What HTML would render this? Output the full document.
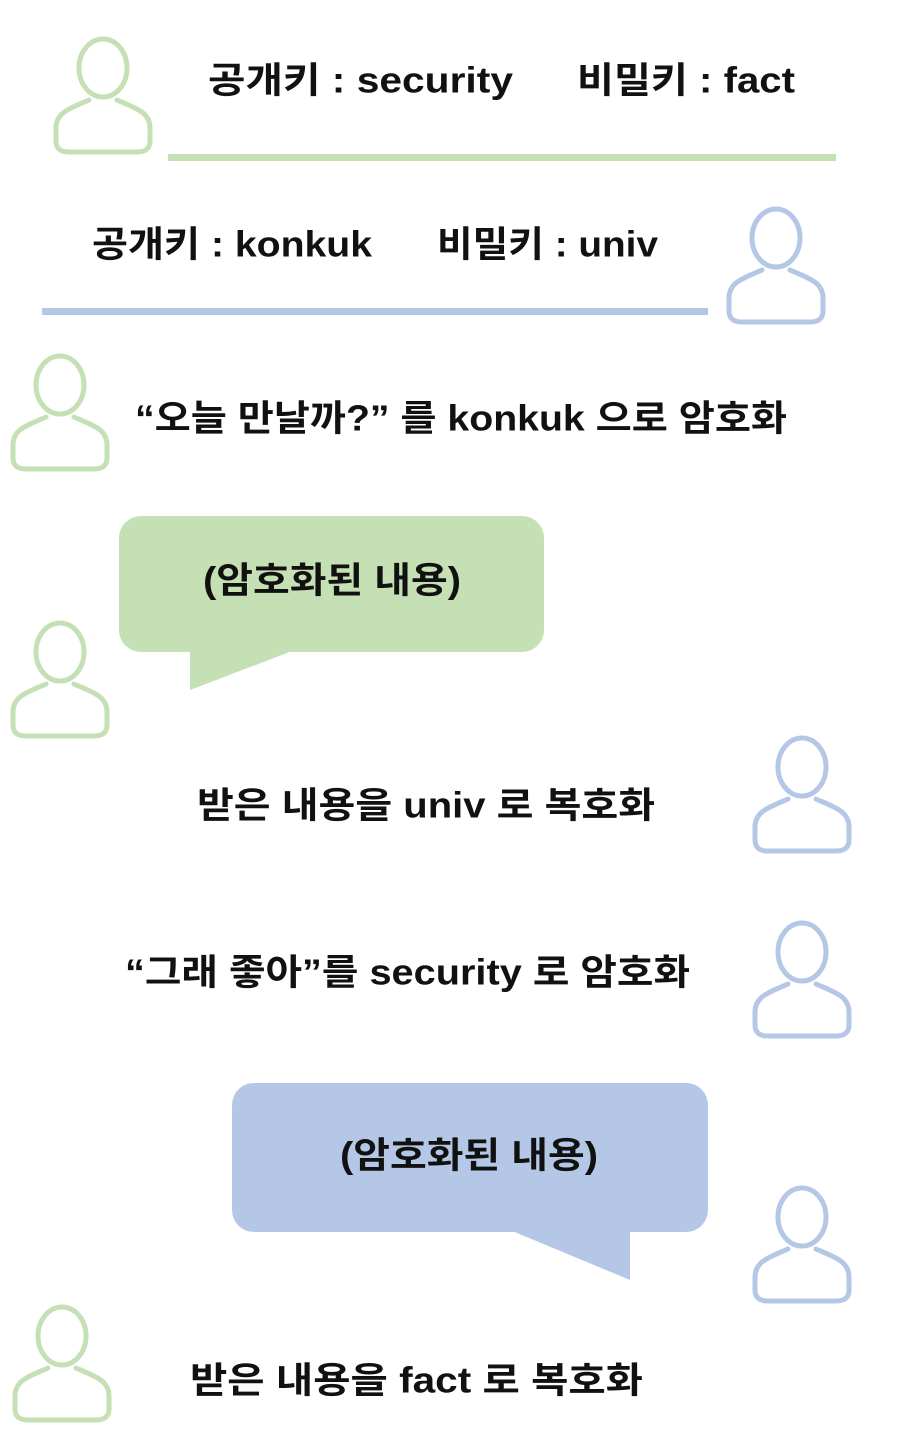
<!DOCTYPE html>
<html><head><meta charset="utf-8"><style>
html,body{margin:0;padding:0;background:#fff;width:900px;height:1449px;overflow:hidden}
text{font-family:"Liberation Sans","Noto Sans CJK KR",sans-serif;font-weight:bold;font-size:36px;fill:#111;dominant-baseline:central}
</style></head><body>
<svg width="900" height="1449" viewBox="0 0 900 1449" xmlns="http://www.w3.org/2000/svg">
<defs>
<g id="p" fill="none" stroke-width="5" stroke-linecap="round">
<ellipse cx="50" cy="30" rx="24" ry="29"/>
<path d="M36,62 C18,70 3,74 3,90 L3,103 Q3,114 16,114 L84,114 Q97,114 97,103 L97,90 C97,74 82,70 64,62"/>
</g>
</defs>
<g stroke="#c5e0b4"><use href="#p" x="53" y="38"/><use href="#p" x="10" y="355"/><use href="#p" x="10" y="622"/><use href="#p" x="12" y="1306"/></g>
<g stroke="#b4c7e7"><use href="#p" x="726" y="208"/><use href="#p" x="752" y="737"/><use href="#p" x="752" y="922"/><use href="#p" x="752" y="1187"/></g>
<rect x="168" y="154" width="668" height="7" fill="#c5e0b4"/>
<rect x="42" y="308" width="666" height="7" fill="#b4c7e7"/>
<text x="208" y="80" textLength="305" lengthAdjust="spacingAndGlyphs">공개키 : security</text>
<text x="577" y="80" textLength="218" lengthAdjust="spacingAndGlyphs">비밀키 : fact</text>
<text x="92" y="244" textLength="280" lengthAdjust="spacingAndGlyphs">공개키 : konkuk</text>
<text x="437" y="244" textLength="221" lengthAdjust="spacingAndGlyphs">비밀키 : univ</text>
<text x="135" y="418" textLength="652" lengthAdjust="spacingAndGlyphs">“오늘 만날까?” 를 konkuk 으로 암호화</text>
<rect x="119" y="516" width="425" height="136" rx="22" fill="#c5e0b4"/>
<polygon points="190,648 190,690 300,648" fill="#c5e0b4"/>
<text x="203" y="580" textLength="258" lengthAdjust="spacingAndGlyphs">(암호화된 내용)</text>
<text x="197" y="805" textLength="458" lengthAdjust="spacingAndGlyphs">받은 내용을 univ 로 복호화</text>
<text x="125" y="972" textLength="565" lengthAdjust="spacingAndGlyphs">“그래 좋아”를 security 로 암호화</text>
<rect x="232" y="1083" width="476" height="149" rx="22" fill="#b4c7e7"/>
<polygon points="505,1228 630,1280 630,1228" fill="#b4c7e7"/>
<text x="340" y="1155" textLength="258" lengthAdjust="spacingAndGlyphs">(암호화된 내용)</text>
<text x="190" y="1380" textLength="453" lengthAdjust="spacingAndGlyphs">받은 내용을 fact 로 복호화</text>
</svg>
</body></html>
